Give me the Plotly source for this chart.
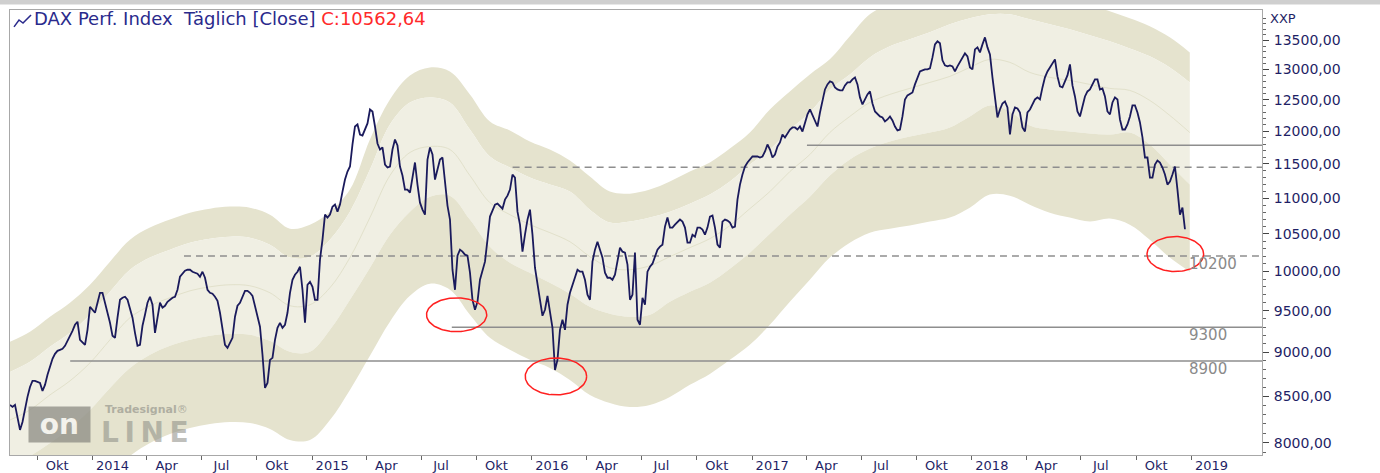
import math
import numpy as np
import pandas as pd
import plotly.graph_objects as go

# ---------------- data ----------------
# closes read at evenly spaced sampling dates between price_start and price_end;
# close_a holds the 1st, 3rd, 5th ... samples, close_b the 2nd, 4th, 6th ... samples
price_start, price_end = "2013-08-17", "2018-12-21"
close_a = [
    8406, 8406, 8137, 8373, 8605, 8673, 8650, 8628, 8832, 8983,
    9030, 9077, 9184, 9329, 9148, 9089, 9550, 9476, 9725, 9600,
    9353, 9172, 9637, 9675, 9538, 9232, 9089, 9451, 9675, 9232,
    9600, 9562, 9637, 9675, 9930, 10008, 10021, 9982, 9930, 9917,
    9725, 9675, 9476, 9089, 9113, 9427, 9600, 9750, 9725, 9550,
    9305, 8594, 8913, 9148, 9353, 9329, 9725, 9956, 10060, 9353,
    9865, 9637, 10153, 10765, 10765, 10906, 10906, 11267, 11460, 12072,
    11947, 12025, 12342, 12072, 11716, 11490, 11460, 11870, 11460, 11121,
    11078, 11520, 10934, 10765, 11747, 11267, 11565, 11267, 10696, 9763,
    10286, 10219, 9982, 9513, 9891, 10127, 10738, 10906, 10877, 10977,
    11121, 11296, 10626, 10488, 10835, 10047, 9637, 9513, 9476, 8797,
    9268, 9268, 9725, 9930, 9995, 9891, 9637, 10286, 10286, 9982,
    9917, 9956, 10313, 10246, 9637, 10246, 9329, 9575, 10060, 10193,
    10326, 10599, 10585, 10626, 10696, 10585, 10380, 10461, 10585, 10488,
    10738, 10585, 10313, 10696, 10654, 10599, 11194, 11460, 11565, 11610,
    11595, 11686, 11716, 11640, 11824, 11901, 12025, 12057, 12072, 12151,
    12342, 12151, 12293, 12668, 12801, 12701, 12652, 12734, 12784, 12868,
    12537, 12504, 12635, 12310, 12231, 12151, 12231, 12072, 12025, 12504,
    12602, 12751, 12968, 13002, 13019, 13432, 13450, 13070, 13070, 12968,
    13122, 13276, 13036, 13345, 13293, 13555, 13259, 12504, 12342, 12472,
    11947, 12374, 12293, 11994, 12342, 12504, 12504, 12868, 13036, 13173,
    12718, 12801, 13087, 12553, 12231, 12553, 12668, 12834, 12668, 12553,
    12263, 12537, 12183, 12025, 12231, 12407, 12136, 11595, 11296, 11490,
    11520, 11341, 11238, 11460, 10765, 10562.64,
]
close_b = [
    8384, 8265, 8222, 8494, 8673, 8661, 8560, 8741, 8925, 9018,
    9042, 9136, 9256, 9366, 9113, 9268, 9513, 9600, 9725, 9439,
    9196, 9415, 9662, 9637, 9415, 9077, 9317, 9600, 9575, 9415,
    9538, 9612, 9662, 9763, 9969, 10021, 9995, 9969, 9995, 9763,
    9713, 9625, 9292, 9054, 9172, 9563, 9687, 9750, 9687, 9439,
    8972, 8650, 8936, 9292, 9292, 9476, 9891, 9995, 9763, 9827,
    9801, 9637, 10420, 10724, 10877, 10807, 11092, 11385, 11793, 12104,
    11932, 12120, 12310, 11808, 11747, 11445, 11716, 11777, 11326, 11121,
    11296, 11194, 10835, 11565, 11640, 11415, 11595, 10892, 10021, 10206,
    10259, 10206, 9637, 9612, 10021, 10420, 10821, 10920, 10849, 11034,
    11341, 10807, 10259, 10696, 10488, 9865, 9439, 9687, 9292, 8913,
    9390, 9575, 9827, 10021, 9995, 9700, 10127, 10393, 10180, 9917,
    9891, 10127, 10259, 10087, 9700, 9390, 9662, 9995, 10100, 10286,
    10353, 10724, 10585, 10668, 10668, 10380, 10488, 10585, 10557, 10585,
    10752, 10353, 10668, 10682, 10585, 10977, 11341, 11520, 11610, 11610,
    11610, 11793, 11595, 11762, 11947, 11963, 12057, 12025, 11994, 12263,
    12247, 12072, 12472, 12751, 12784, 12668, 12652, 12784, 12834, 12751,
    12423, 12586, 12439, 12263, 12215, 12183, 12167, 12010, 12231, 12570,
    12619, 12868, 12985, 13002, 13207, 13485, 13156, 13053, 13053, 13053,
    13207, 13225, 13002, 13380, 13432, 13380, 12868, 12215, 12439, 12374,
    12263, 12358, 12057, 12294, 12423, 12537, 12701, 12968, 13087, 12884,
    12701, 12901, 12734, 12310, 12390, 12635, 12751, 12834, 12685, 12310,
    12455, 12504, 12025, 12104, 12407, 12294, 11901, 11595, 11296, 11550,
    11445, 11194, 11341, 11121, 10863,
]

band_start, band_end = "2013-08-17", "2018-12-29"
band_outer_upper = [
    9124, 9244, 9427, 9600, 9827, 10127, 10420, 10585, 10696, 10793,
    10849, 10878, 10863, 10765, 10571, 10626, 10807, 11121, 11870, 12504,
    12901, 13036, 12968, 12586, 12151, 12010, 11839, 11716, 11550, 11311,
    11092, 11063, 11121, 11238, 11385, 11520, 11731, 11978, 12342, 12635,
    12918, 13173, 13573, 13969, 14151, 14244, 14300, 14355, 14430, 14524,
    14524, 14430, 14337, 14244, 14133, 14023, 13896, 13752, 13555, 13293,
]
band_inner_upper = [
    8774, 8890, 9065, 9232, 9451, 9738, 10021, 10180, 10286, 10380,
    10434, 10461, 10447, 10353, 10180, 10193, 10420, 10807, 11415, 12104,
    12455, 12537, 12455, 12025, 11610, 11445, 11297, 11194, 11092, 10835,
    10654, 10668, 10724, 10807, 10920, 11049, 11238, 11490, 11716, 12025,
    12294, 12668, 12918, 13207, 13398, 13520, 13644, 13788, 13896, 13969,
    13969, 13878, 13788, 13697, 13591, 13485, 13362, 13225, 13036, 12784,
]
band_mid = [
    8243, 8351, 8516, 8673, 8878, 9148, 9415, 9563, 9662, 9750,
    9801, 9827, 9814, 9725, 9563, 9575, 9789, 10180, 10724, 11326,
    11671, 11762, 11716, 11326, 10934, 10765, 10626, 10516, 10393, 10193,
    10047, 10021, 10073, 10193, 10313, 10434, 10613, 10849, 11092, 11385,
    11640, 11978, 12231, 12455, 12586, 12685, 12784, 12884, 13036, 13173,
    13122, 12951, 12868, 12817, 12751, 12685, 12652, 12488, 12247, 11978,
]
band_inner_lower = [
    7764, 7866, 8000, 8158, 8351, 8593, 8820, 8972, 9077, 9148,
    9196, 9220, 9208, 9136, 9007, 9007, 9268, 9637, 10047, 10488,
    10807, 11020, 11034, 10696, 10326, 10113, 9982, 9853, 9713, 9550,
    9464, 9427, 9451, 9612, 9738, 9853, 10034, 10246, 10502, 10765,
    11020, 11326, 11565, 11731, 11839, 11917, 11978, 12057, 12231, 12407,
    12310, 12088, 12025, 11994, 11963, 11947, 11978, 11793, 11490, 11194,
]
band_outer_lower = [
    6924, 7015, 7134, 7275, 7447, 7664, 7866, 8000, 8095, 8158,
    8200, 8221, 8211, 8148, 8031, 8031, 8243, 8571, 8960, 9366,
    9687, 9840, 9763, 9451, 9172, 9030, 8913, 8820, 8684, 8516,
    8428, 8384, 8406, 8494, 8628, 8752, 8913, 9089, 9329, 9612,
    9891, 10180, 10380, 10516, 10571, 10613, 10668, 10724, 10863, 11049,
    11034, 10906, 10793, 10724, 10668, 10710, 10626, 10420, 10180, 9995,
]

# horizontal support / resistance levels
level_values = [8900, 9300, 10200, 11450, 11780]
level_starts = ["2013-11-25", "2015-08-21", "2014-06-02", "2015-11-30", "2017-04-02"]
level_dashed = [False, False, True, True, False]
level_labels = ["8900", "9300", "10200", "", ""]

# red marker ellipses: centre date, centre value, half width (days), half height (log)
ellipse_dates = ["2015-08-29", "2016-02-10", "2018-12-05"]
ellipse_values = [9451, 8723, 10227]
ellipse_half_days = [50, 51, 47]
ellipse_half_log = [0.022, 0.024, 0.0228]

x_range = ["2013-08-17", "2019-04-28"]
y_range_vals = [7876, 14046]

x_tick_dates = ["2013-10-01", "2014-01-01", "2014-04-01", "2014-07-01", "2014-10-01",
                "2015-01-01", "2015-04-01", "2015-07-01", "2015-10-01",
                "2016-01-01", "2016-04-01", "2016-07-01", "2016-10-01",
                "2017-01-01", "2017-04-01", "2017-07-01", "2017-10-01",
                "2018-01-01", "2018-04-01", "2018-07-01", "2018-10-01", "2019-01-01"]
x_tick_text = ["Okt", "2014", "Apr", "Jul", "Okt", "2015", "Apr", "Jul", "Okt",
               "2016", "Apr", "Jul", "Okt", "2017", "Apr", "Jul", "Okt",
               "2018", "Apr", "Jul", "Okt", "2019"]
y_major = list(range(8000, 14000, 500))
y_minor = [v for v in range(7900, 14100, 100) if v % 500 != 0]

# ---------------- styling ----------------
NAVY = "#1a1a5c"
TXT = "#1f1f66"
KHAKI = "#e5e3ce"
LIGHT = "#f0efe3"
GRAY = "#8e8e8e"
FONT = "DejaVu Sans"

dax_close = [v for pair in zip(close_a, close_b) for v in pair] + [close_a[-1]]
price_dates = pd.date_range(price_start, price_end, periods=len(dax_close))
band_dates = pd.date_range(band_start, band_end, periods=len(band_mid))

fig = go.Figure()

# bands
fig.add_trace(go.Scatter(x=band_dates, y=band_outer_upper, mode="lines",
                         line=dict(width=0, shape="spline"), hoverinfo="skip", showlegend=False))
fig.add_trace(go.Scatter(x=band_dates, y=band_inner_upper, mode="lines", fill="tonexty",
                         fillcolor=KHAKI, line=dict(width=0, shape="spline"),
                         hoverinfo="skip", showlegend=False))
fig.add_trace(go.Scatter(x=band_dates, y=band_inner_lower, mode="lines", fill="tonexty",
                         fillcolor=LIGHT, line=dict(width=0, shape="spline"),
                         hoverinfo="skip", showlegend=False))
fig.add_trace(go.Scatter(x=band_dates, y=band_outer_lower, mode="lines", fill="tonexty",
                         fillcolor=KHAKI, line=dict(width=0, shape="spline"),
                         hoverinfo="skip", showlegend=False))
fig.add_trace(go.Scatter(x=band_dates, y=band_mid, mode="lines",
                         line=dict(width=1, color="#e2e1cb", shape="spline"),
                         hoverinfo="skip", showlegend=False))

# levels
for val, start, dashed in zip(level_values, level_starts, level_dashed):
    fig.add_trace(go.Scatter(x=[start, x_range[1]], y=[val, val], mode="lines",
                             line=dict(color=GRAY, width=1.5, dash="7px,5px" if dashed else "solid"),
                             hoverinfo="skip", showlegend=False))

# price
fig.add_trace(go.Scatter(x=price_dates, y=dax_close, mode="lines",
                         line=dict(color=NAVY, width=1.8), showlegend=False,
                         name="DAX"))

# ellipses
t = np.linspace(0, 2 * np.pi, 120)
for d, v, hd, hl in zip(ellipse_dates, ellipse_values, ellipse_half_days, ellipse_half_log):
    c = pd.Timestamp(d)
    ex = [c + pd.Timedelta(days=float(hd * math.cos(a))) for a in t]
    ey = [v * math.exp(hl * math.sin(a)) for a in t]
    fig.add_trace(go.Scatter(x=ex, y=ey, mode="lines", line=dict(color="#ff2020", width=1.5),
                             hoverinfo="skip", showlegend=False))

# level labels
for val, lab in zip(level_values, level_labels):
    if lab:
        fig.add_annotation(x="2018-12-24", y=math.log10(val), text=lab, showarrow=False,
                           xanchor="left", yanchor="middle", yshift=-8,
                           font=dict(family=FONT, size=15, color="#8a8a8a"))

# title
fig.add_annotation(xref="paper", yref="paper", x=0.0176, y=0.981, xanchor="left", yanchor="middle",
                   text="DAX Perf. Index  Täglich [Close] <span style='color:#ff2a2a'>C:10562,64</span>",
                   showarrow=False, font=dict(family=FONT, size=18, color="#2a2a8c"))
fig.add_shape(type="path", xref="paper", yref="paper",
              path="M 0.0032 0.962 L 0.0072 0.9775 L 0.0104 0.9708 L 0.0168 0.9888",
              line=dict(color="#2a2a8c", width=1.5))
# axis unit
fig.add_annotation(xref="paper", yref="paper", x=1.0048, y=0.982, xanchor="left", yanchor="middle",
                   text="XXP", showarrow=False, font=dict(family=FONT, size=13, color=TXT))
# window strip at top
fig.add_shape(type="rect", xref="paper", yref="paper", x0=-0.01, x1=1.1, y0=1.0125, y1=1.03,
              fillcolor="#cfcfcf", line=dict(width=0), layer="below")

# watermark
fig.add_annotation(xref="paper", yref="paper", x=0.0144, y=0.068, xanchor="left", yanchor="middle",
                   text="<b>&nbsp;on&nbsp;</b>", showarrow=False, bgcolor="#8c8c84", borderpad=1,
                   opacity=0.75, font=dict(family=FONT, size=28, color="#f4f4f0"))
fig.add_annotation(xref="paper", yref="paper", x=0.071, y=0.05, xanchor="left", yanchor="middle",
                   text="<b>L&#8201;I&#8201;N&#8201;E</b>", showarrow=False, opacity=0.55,
                   font=dict(family=FONT, size=28, color="#8c8c84"))
fig.add_annotation(xref="paper", yref="paper", x=0.074, y=0.102, xanchor="left", yanchor="middle",
                   text="<b>Tradesignal</b>\u00ae", showarrow=False, opacity=0.6,
                   font=dict(family=FONT, size=11, color="#8c8c84"))

fig.update_layout(
    width=1380, height=473, autosize=False,
    margin=dict(l=10, r=118, t=10, b=18),
    paper_bgcolor="white", plot_bgcolor="white",
    showlegend=False,
    xaxis=dict(type="date", range=x_range, showgrid=False, zeroline=False, automargin=False,
               showline=True, linecolor="#a8a8a8", linewidth=1, mirror=True,
               tickvals=x_tick_dates, ticktext=x_tick_text, ticks="outside", ticklen=4,
               tickcolor="#666", ticklabelshift=20, ticklabelstandoff=-6,
               tickfont=dict(family=FONT, size=13, color=TXT)),
    yaxis=dict(type="log", side="right", automargin=False,
               range=[math.log10(y_range_vals[0]), math.log10(y_range_vals[1])],
               showgrid=False, zeroline=False, showline=True, linecolor="#a8a8a8",
               linewidth=1, mirror=True,
               tickvals=y_major, ticktext=[f"{v:.2f}".replace(".", ",") for v in y_major],
               ticks="outside", ticklen=6, tickcolor="#444", ticklabelstandoff=2,
               minor=dict(tickvals=y_minor, ticks="outside", ticklen=3, tickcolor="#666"),
               tickfont=dict(family=FONT, size=14, color=TXT)),
)

fig.write_html("out.html", config={"displayModeBar": False},
               post_script="document.body.style.margin='0px';document.body.style.padding='0px';"
                           "document.body.style.overflow='hidden';")
